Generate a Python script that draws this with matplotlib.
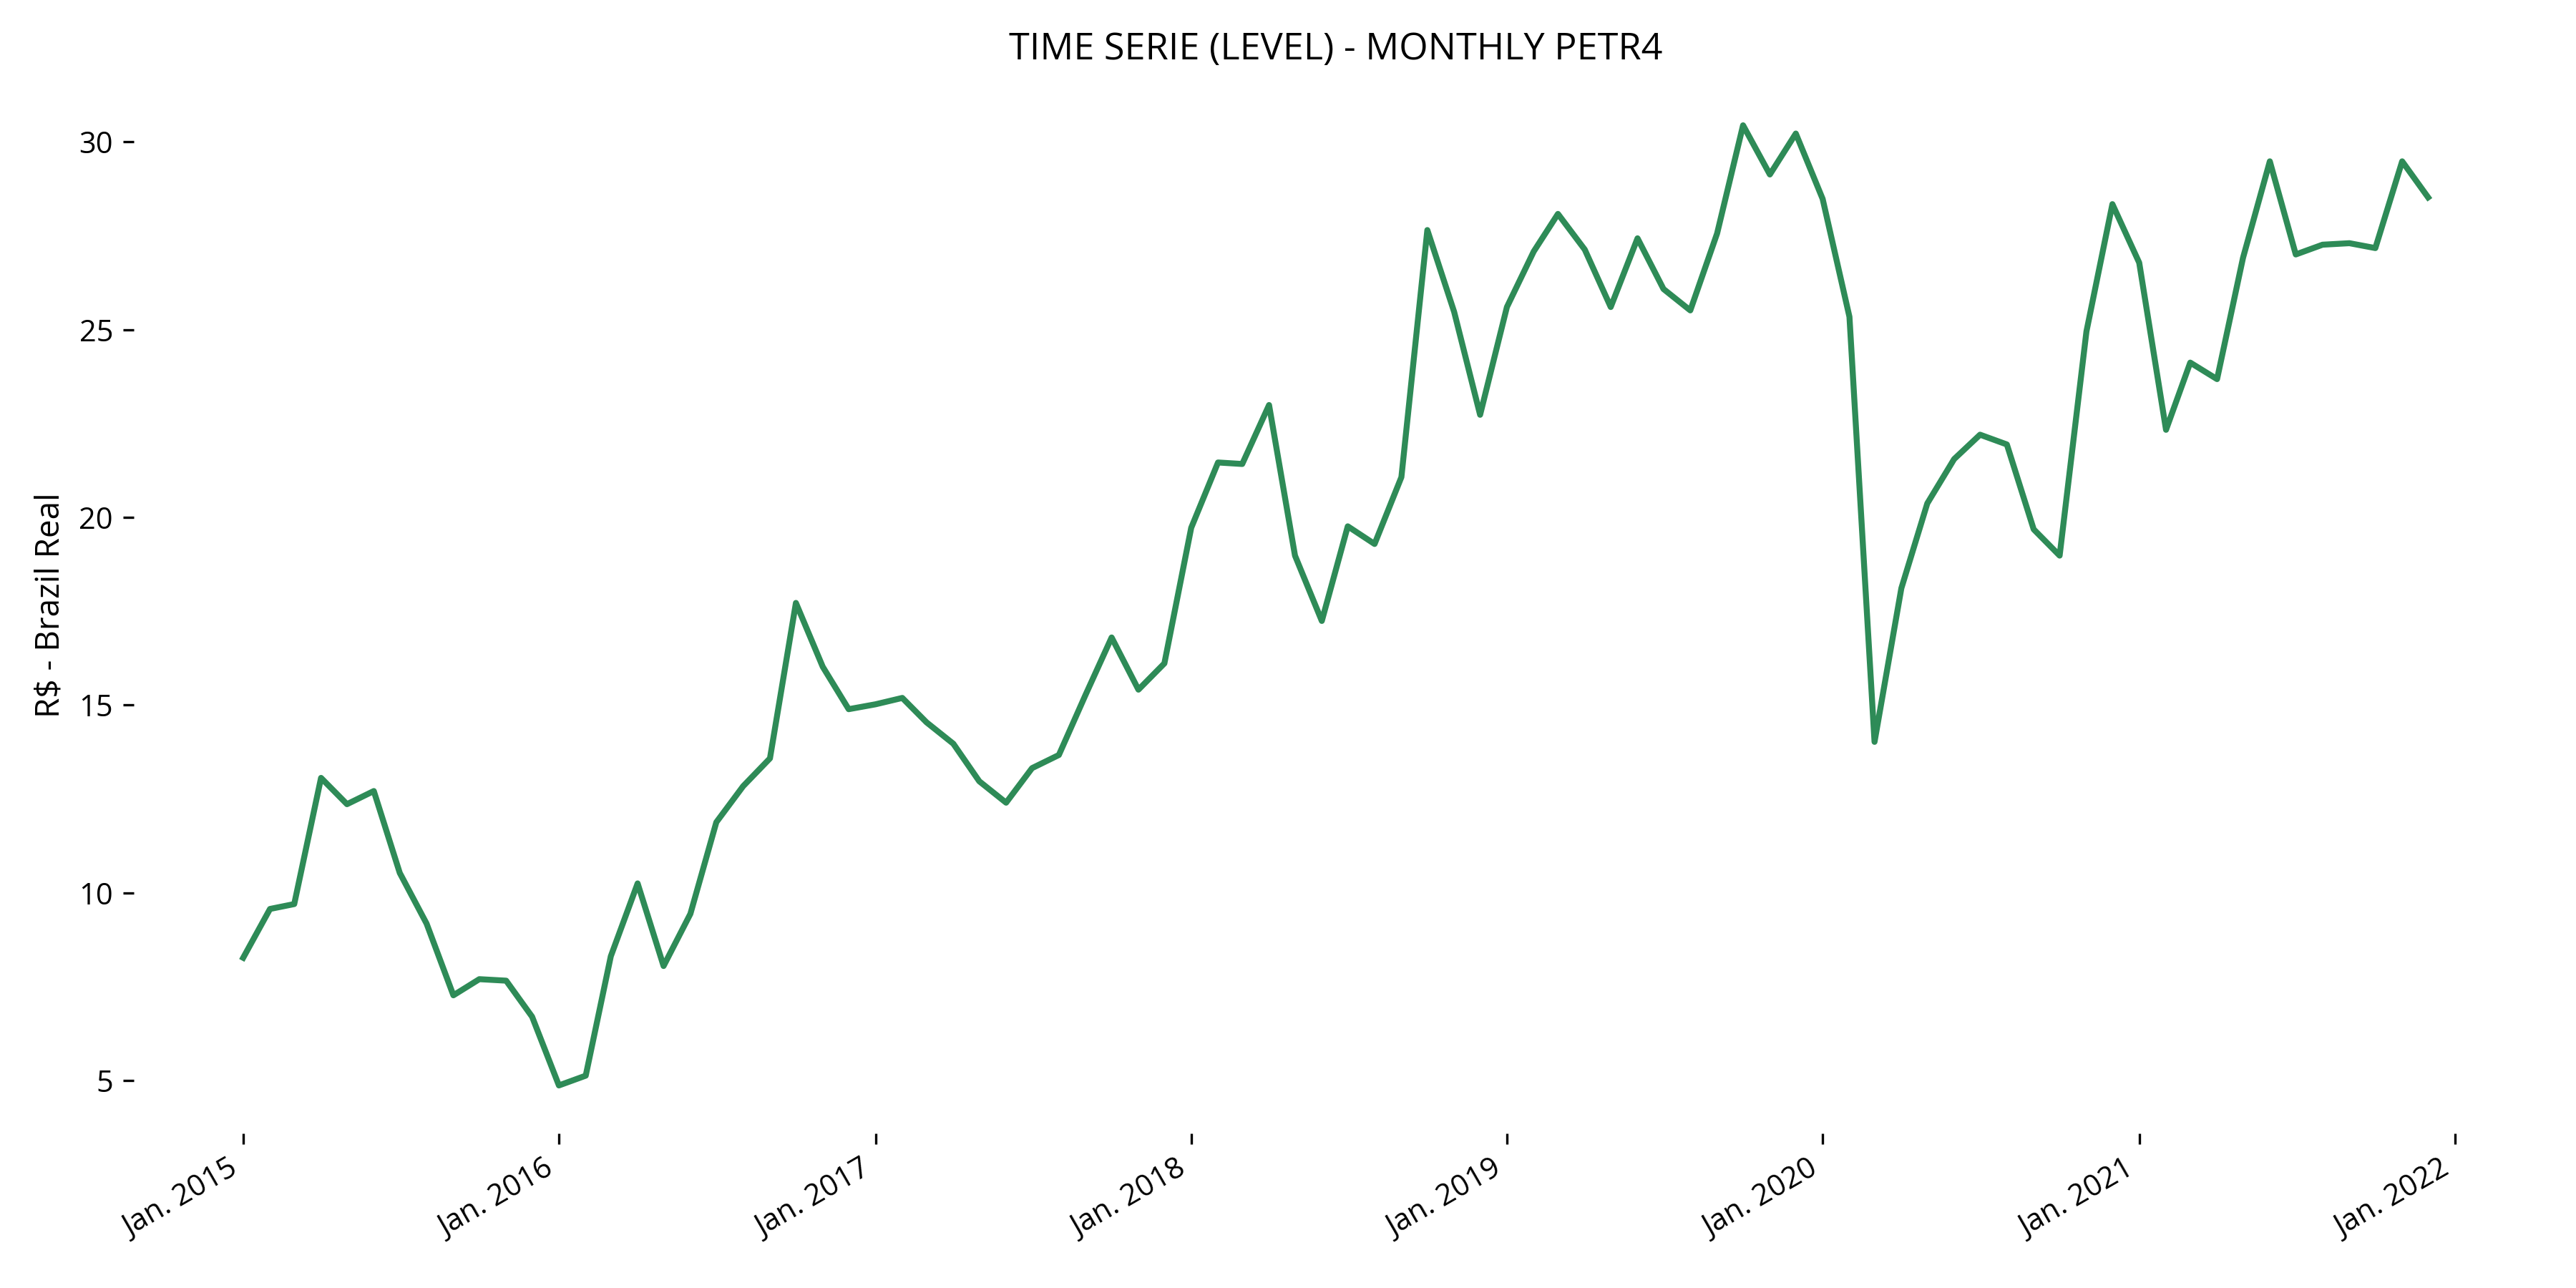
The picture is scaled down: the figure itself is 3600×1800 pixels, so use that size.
import matplotlib
matplotlib.use('Agg')
import matplotlib.pyplot as plt
import matplotlib.dates as mdates
import numpy as np
import pandas as pd

plt.rcParams['font.family'] = ['Open Sans', 'DejaVu Sans']

# dados mensais PETR4 (R$), jan/2015 .. dez/2021
datas = pd.date_range('2015-01-01', '2021-12-01', freq='MS')
precos = [
    8.27, 9.57, 9.70, 13.06, 12.36, 12.71, 10.53, 9.18, 7.27, 7.70, 7.66, 6.70,   # 2015
    4.87, 5.13, 8.31, 10.25, 8.05, 9.44, 11.88, 12.84, 13.58, 17.72, 16.02, 14.89,  # 2016
    15.02, 15.19, 14.54, 13.97, 12.97, 12.40, 13.32, 13.67, 15.28, 16.80, 15.41, 16.11,  # 2017
    19.72, 21.46, 21.42, 22.99, 18.98, 17.24, 19.76, 19.29, 21.07, 27.65, 25.47, 22.73,  # 2018
    25.60, 27.08, 28.08, 27.13, 25.60, 27.43, 26.08, 25.51, 27.56, 30.44, 29.13, 30.22,  # 2019
    28.48, 25.34, 14.02, 18.11, 20.37, 21.55, 22.20, 21.94, 19.68, 18.98, 24.95, 28.34,  # 2020
    26.78, 22.33, 24.12, 23.68, 26.91, 29.48, 27.00, 27.26, 27.30, 27.17, 29.48, 28.52,  # 2021
]

fig, ax = plt.subplots(figsize=(12, 6), dpi=300)
ax.plot(datas, precos, color='seagreen', linewidth=2.0)

ax.set_title('TIME SERIE (LEVEL) - MONTHLY PETR4', fontsize=12.5)
ax.set_ylabel('R$ - Brazil Real', fontsize=11)
ax.xaxis.set_major_locator(mdates.YearLocator())
ax.xaxis.set_major_formatter(mdates.DateFormatter('%b. %Y'))
for s in ax.spines.values():
    s.set_visible(False)
fig.autofmt_xdate()
plt.subplots_adjust(left=0.052, right=0.985, top=0.94, bottom=0.12)
plt.savefig('out.png', dpi=300)
